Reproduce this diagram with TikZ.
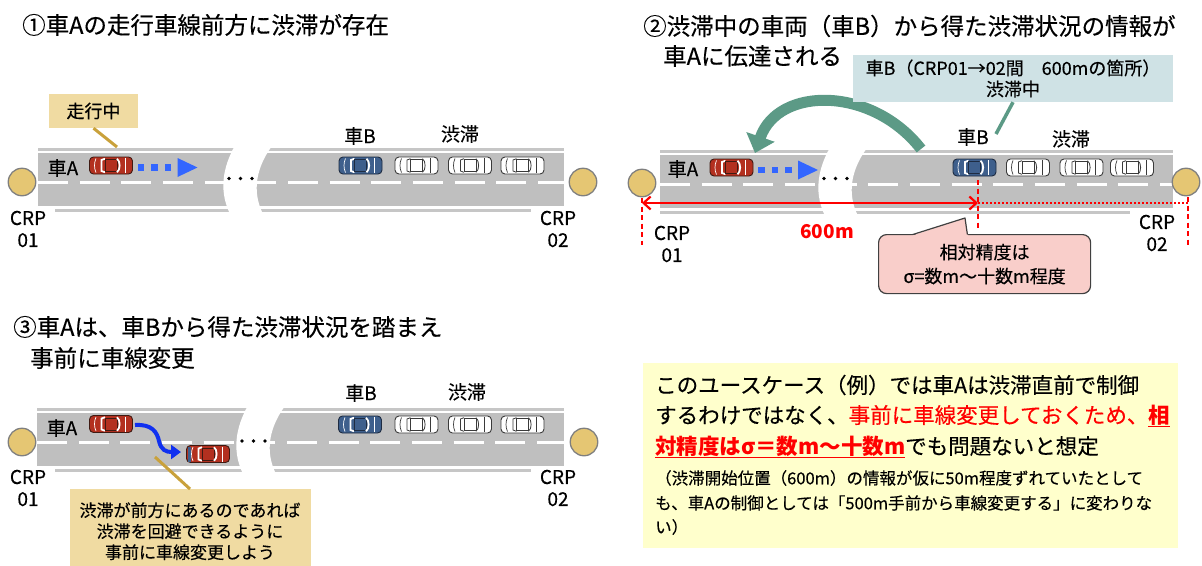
\documentclass[tikz,border=0pt]{standalone}
\usepackage{fontspec}
\setmainfont{Noto Sans CJK JP}[UprightFeatures={FakeBold=0.35}]
\usetikzlibrary{arrows.meta}

\definecolor{roadgrey}{HTML}{BFBFBF}
\definecolor{edgegrey}{HTML}{C6C6C6}
\definecolor{crpfill}{HTML}{E5C673}
\definecolor{crpedge}{HTML}{7F7F7F}
\definecolor{tanbox}{HTML}{F0DBA2}
\definecolor{goldline}{HTML}{C9A13B}
\definecolor{tealc}{HTML}{5C9A86}
\definecolor{infobox}{HTML}{CFE2E5}
\definecolor{pinkbox}{HTML}{F9CECA}
\definecolor{notebox}{HTML}{FFFFCC}
\definecolor{carred}{HTML}{B3301F}
\definecolor{carrededge}{HTML}{3F1A12}
\definecolor{carblue}{HTML}{3E5F8C}
\definecolor{carblueedge}{HTML}{1E2C42}
\definecolor{caredge}{HTML}{3A3A3A}
\definecolor{dotblue}{HTML}{3366FF}
\definecolor{laneblue}{HTML}{1030F0}
\definecolor{measred}{HTML}{FF0000}
\definecolor{darkedge}{HTML}{404040}

\newcommand\fsz[2]{\fontsize{#1pt}{#2pt}\selectfont}
% thick underline in the current colour
\newcommand\thickul[1]{\leavevmode\setbox0\hbox{#1}\rlap{\rule[-4pt]{\wd0}{1.6pt}}\box0}

% road strip: left x, right x, centre-line y, bottom edge start x, bottom edge end x
\newcommand\roadstrip[5]{%
  \fill[roadgrey] (#1,{#3-29}) rectangle (#2,{#3+24});
  \draw[edgegrey,line width=3pt] (#1,{#3-33}) -- (#2,{#3-33});
  \draw[edgegrey,line width=3pt] (#4,{#3+28}) -- (#5,{#3+28});
  \draw[white,line width=3pt,dash pattern=on 30pt off 11.67pt] (#1,#3) -- (#2,#3);
}
% torn gap in the road with an ellipsis: centre x, centre-line y, dot y
\newcommand\roadbreak[3]{%
  \fill[white] ({#1-10},{#2-40}) .. controls ({#1-22},{#2-20}) and ({#1-30},{#2+5}) .. ({#1-17},{#2+32})
    -- ({#1+16},{#2+32}) .. controls ({#1+5},{#2+10}) and ({#1+8},{#2-15}) .. ({#1+28},{#2-40}) -- cycle;
  \fill[black] ({#1-18},#3) circle (1.8) ({#1-6.5},#3) circle (1.8) ({#1+5},#3) circle (1.8);
}
% dotted driving arrow: car front x, y
\newcommand\goarrow[2]{%
  \fill[dotblue] ({#1+5},{#2-3.25}) rectangle ++(6.5,6.5);
  \fill[dotblue] ({#1+18.5},{#2-3.25}) rectangle ++(6.5,6.5);
  \fill[dotblue] ({#1+32},{#2-3.25}) rectangle ++(6.5,6.5);
  \fill[dotblue] ({#1+45},{#2-9.5}) -- ({#1+65},#2) -- ({#1+45},{#2+9.5}) -- cycle;
}

\tikzset{
  pics/car/.style n args={4}{code={
    \filldraw[fill=#1, draw=#2, line width=0.9pt, rounded corners=4pt] (-21.5,-8.5) rectangle (21.5,8.5);
    \draw[#3, line width=0.7pt] (-15,-7) .. controls (-17,-3) and (-17,3) .. (-15,7);
    \draw[#3, line width=#4] (-6,-6.8) -- (-9.5,-5.5) -- (-9.5,5.5) -- (-6,6.8);
    \draw[#2, line width=0.6pt] (-6,-6) rectangle (6,6);
    \draw[#3, line width=#4] (6,-6.8) .. controls (9.5,-4.5) and (9.5,4.5) .. (6,6.8);
    \draw[#3, line width=0.7pt] (14,-7.5) -- (14,7.5);
  }},
  pics/redcar/.style={car={carred}{carrededge}{white}{1.8pt}},
  pics/bluecar/.style={car={carblue}{carblueedge}{white}{1.8pt}},
  pics/whitecar/.style={car={white}{caredge}{caredge}{0.8pt}},
  title/.style={inner sep=0pt, anchor=west, font=\fsz{23.5}{28}},
  lbl/.style={inner sep=0pt, font=\fsz{19}{22}},
  crplbl/.style={inner sep=0pt, align=center, font=\fsz{19}{22}},
  crp/.style={circle, minimum size=27.5pt, inner sep=0pt, fill=crpfill, draw=crpedge, line width=1.3pt},
  tannote/.style={fill=tanbox, inner sep=0pt, align=center},
  goldlead/.style={goldline, line width=3pt},
  teallead/.style={tealc, line width=3.5pt},
  notebig/.style={inner sep=0pt, anchor=west, font=\fsz{21.5}{26}},
  notesmall/.style={inner sep=0pt, anchor=west, font=\fsz{16.5}{20}},
  guide/.style={measred, line width=1.3pt, dash pattern=on 5pt off 3.5pt},
}

\begin{document}
\begin{tikzpicture}[x=1pt,y=-1pt]
\useasboundingbox (0,0) rectangle (1202,565);

% ---------- roads ----------
\roadstrip{38}{564}{182}{55}{531}
\roadstrip{660}{1173}{184}{660}{1130}
\roadstrip{37}{564}{442}{55}{531}
\roadbreak{247}{182}{178.5}
\roadbreak{842}{184}{178.5}
\roadbreak{260}{442}{441}

% ---------- panel 1 ----------
\node[title] (t1) at (22,25) {①車Aの走行車線前方に渋滞が存在};
\node[crp] (p1crpa) at (22,182) {};
\node[crp] (p1crpb) at (583,182) {};
\node[crplbl] (p1la) at (28,229) {CRP\\01};
\node[crplbl] (p1lb) at (558,229) {CRP\\02};
\pic at (111,165.5) {redcar};
\goarrow{132.5}{167.5}
\pic at (360.5,165.5) {bluecar};
\pic at (416.5,165.5) {whitecar};
\pic at (470,165.5) {whitecar};
\pic at (522.5,165.5) {whitecar};
\node[lbl] (p1ca) at (63,168) {車A};
\node[lbl] (p1cb) at (360,136) {車B};
\node[lbl] (p1jam) at (460,134) {渋滞};
\node[tannote, minimum width=89pt, minimum height=34pt, font=\fsz{18}{21}] (run) at (93.5,111) {走行中};
\coordinate (runp) at (117,147);
\draw[goldlead] (run.south) -- (runp);

% ---------- panel 2 ----------
\node[title] (t2a) at (643,26) {②渋滞中の車両（車B）から得た渋滞状況の情報が};
\node[title] (t2b) at (663,56) {車Aに伝達される};
\node[crp] (p2crpa) at (642,183) {};
\node[crp] (p2crpb) at (1186,182) {};
\node[crplbl] (p2la) at (672,244) {CRP\\01};
\node[crplbl] (p2lb) at (1157,233) {CRP\\02};
\pic at (731.5,167.5) {redcar};
\goarrow{753}{170}
\pic at (974.5,167.5) {bluecar};
\pic at (1028,167.5) {whitecar};
\pic at (1081.5,167.5) {whitecar};
\pic at (1132,167.5) {whitecar};
\node[lbl] (p2ca) at (683,169) {車A};
\node[lbl] (p2cb) at (973,137) {車B};
\node[lbl] (p2jam) at (1071,139) {渋滞};

% information passed from car B back to car A
\coordinate (sendB) at (921,149);
\coordinate (recvA) at (755,153);
\draw[tealc, line width=11pt, -{Triangle[length=17pt,width=29pt]}]
  (sendB) .. controls (872,86) and (778,86) .. (recvA);

\node[fill=infobox, minimum width=320pt, minimum height=47pt, inner sep=0pt, align=center,
      font=\fsz{18}{21}] (info) at (1013,78.5) {車B（CRP01→02間　600mの箇所）\\渋滞中};
\coordinate (infop) at (996,134);
\draw[teallead] (info.south) -- (infop);

% distance from CRP01 to the head of the jam
\coordinate (g0a) at (642,198);  \coordinate (g0b) at (642,245);
\coordinate (g1a) at (978,180);  \coordinate (g1b) at (978,228);
\coordinate (g2a) at (1188,197); \coordinate (g2b) at (1188,245);
\draw[guide] (g0a) -- (g0b);
\draw[guide] (g1a) -- (g1b);
\draw[guide] (g2a) -- (g2b);
\coordinate (m0) at (642,203);
\coordinate (m1) at (978,203);
\coordinate (m2) at (1188,203);
\draw[measred, line width=2pt, dash pattern=on 2pt off 2pt] (m1) -- (m2);
\draw[measred, line width=2.2pt, {Straight Barb[length=7pt,width=13pt]}-{Straight Barb[length=7pt,width=13pt]}] (m0) -- (m1);
\node[inner sep=0pt, text=measred, font=\fsz{19}{22}\bfseries] (dist) at (827,232) {600m};

% accuracy callout
\node[fill=pinkbox, draw=darkedge, line width=1.2pt, rounded corners=8pt, minimum width=212pt,
      minimum height=59pt, inner sep=0pt, align=center, font=\fsz{18}{24}, anchor=north west]
      (acc) at (878,234) {相対精度は\\σ=数m〜十数m程度};
\coordinate (accp) at (965,218);
\fill[pinkbox] (911.5,235.8) -- (accp) -- (968.2,235.8) -- cycle;
\draw[darkedge, line width=1.2pt, line join=round] (912.5,234.6) -- (accp) -- (967.4,234.6);

% ---------- panel 3 ----------
\node[title] (t3a) at (13,327) {③車Aは、車Bから得た渋滞状況を踏まえ};
\node[title] (t3b) at (30,358) {事前に車線変更};
\node[crp] (p3crpa) at (22,442) {};
\node[crp] (p3crpb) at (584,442) {};
\node[crplbl] (p3la) at (28,488) {CRP\\01};
\node[crplbl] (p3lb) at (558,488) {CRP\\02};
\pic at (111,424) {redcar};
\pic at (208,454) {redcar};
\fill[carblue] (187.5,446.5) rectangle (191,461.5);
\pic at (360,424.5) {bluecar};
\pic at (416.5,424.5) {whitecar};
\pic at (470,424.5) {whitecar};
\pic at (522.5,424.5) {whitecar};
\node[lbl] (p3ca) at (62,428) {車A};
\node[lbl] (p3cb) at (361,393) {車B};
\node[lbl] (p3jam) at (467,392) {渋滞};

% lane change
\coordinate (laneA) at (135,425);
\coordinate (laneB) at (181,452);
\draw[laneblue, line width=4pt, -{Triangle[length=10pt,width=14pt]}]
  (laneA) .. controls (152,424) and (157,432) .. (159,441) .. controls (161,450) and (166,452) .. (laneB);

\node[tannote, minimum width=241pt, minimum height=84pt, anchor=north, font=\fsz{17}{21}] (avoid)
  at (190,489) {渋滞が前方にあるのであれば\\渋滞を回避できるように\\事前に車線変更しよう};
\coordinate (avoidp) at (155,457);
\draw[goldlead] (avoid.north) -- (avoidp);

% ---------- note ----------
\node[fill=notebox, minimum width=535pt, minimum height=185pt, inner sep=0pt, anchor=north west] (note) at (643,363) {};
\node[notebig] (n1) at (655,385) {このユースケース（例）では車Aは渋滞直前で制御};
\node[notebig] (n2) at (655,416) {するわけではなく、\textcolor{measred}{事前に車線変更しておくため、\textbf{\thickul{相}}}};
\node[notebig] (n3) at (655,447) {\textcolor{measred}{\textbf{\thickul{対精度はσ＝数m〜十数m}}}でも問題ないと想定};
\node[notesmall] (n4) at (655,478) {（渋滞開始位置（600m）の情報が仮に50m程度ずれていたとして};
\node[notesmall] (n5) at (655,503) {も、車Aの制御としては「500m手前から車線変更する」に変わりな};
\node[notesmall] (n6) at (655,527) {い）};
\end{tikzpicture}
\end{document}
